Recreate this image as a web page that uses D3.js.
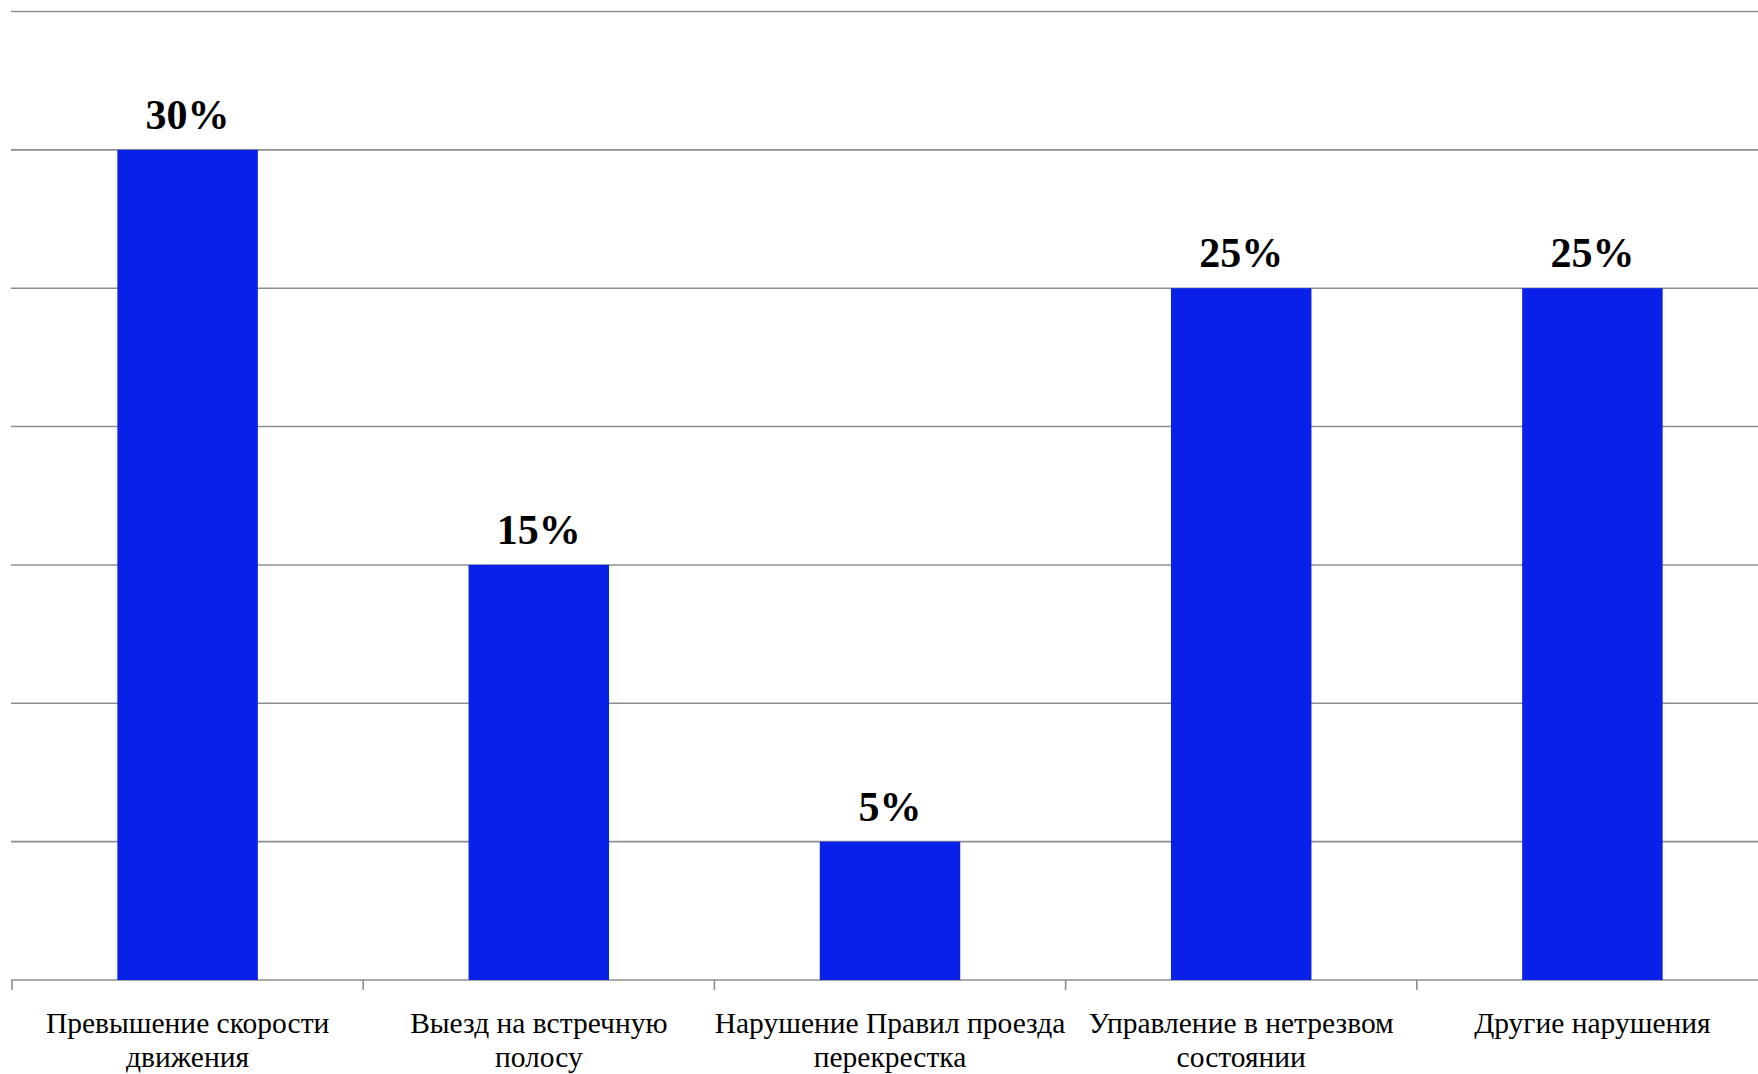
<!DOCTYPE html>
<html>
<head>
<meta charset="utf-8">
<script src="https://cdn.jsdelivr.net/npm/d3@7"></script>
<style>
    html, body { margin: 0; padding: 0; background: #fff; overflow: hidden; }
    svg { display: block; }
</style>
</head>
<body>
<div id="chart"></div>
<script>
// Chart data
const categories = [
    ["Превышение скорости", "движения"],
    ["Выезд на встречную", "полосу"],
    ["Нарушение Правил проезда", "перекрестка"],
    ["Управление в нетрезвом", "состоянии"],
    ["Другие нарушения"]
];
const values = [30, 15, 5, 25, 25];
const yTicks = [0, 5, 10, 15, 20, 25, 30, 35];

// Dimensions
const width = 1758;
const height = 1074;
const plot = { left: 12, right: 1768, top: 11.5, bottom: 980 };
const serif = "'Liberation Serif', 'Times New Roman', serif";

const svg = d3.select("#chart")
    .append("svg")
    .attr("width", width)
    .attr("height", height);

const xScale = d3.scaleBand()
    .domain(d3.range(values.length))
    .range([plot.left, plot.right])
    .paddingInner(0.6)
    .paddingOuter(0.3);

// band step, used for the tick marks between categories
const xStep = d3.scaleBand()
    .domain(d3.range(values.length))
    .range([plot.left, plot.right]);

const yScale = d3.scaleLinear()
    .domain([0, 35])
    .range([plot.bottom, plot.top]);

// Gridlines
svg.append("g")
    .selectAll("line")
    .data(yTicks)
    .enter()
    .append("line")
    .attr("x1", plot.left - 1)
    .attr("x2", width)
    .attr("y1", d => yScale(d))
    .attr("y2", d => yScale(d))
    .attr("stroke", "#8e8e8e")
    .attr("stroke-width", 1.6);

// Bars
svg.append("g")
    .selectAll("rect")
    .data(values)
    .enter()
    .append("rect")
    .attr("x", (d, i) => xScale(i))
    .attr("y", d => yScale(d))
    .attr("width", xScale.bandwidth())
    .attr("height", d => yScale(0) - yScale(d))
    .attr("fill", "#0820e8");

// Category axis ticks between categories
const boundaries = d3.range(values.length + 1).map(i => plot.left + i * xStep.step());
svg.append("g")
    .selectAll("line")
    .data(boundaries)
    .enter()
    .append("line")
    .attr("x1", d => d)
    .attr("x2", d => d)
    .attr("y1", yScale(0))
    .attr("y2", yScale(0) + 10)
    .attr("stroke", "#8e8e8e")
    .attr("stroke-width", 1.6);

// Value labels
svg.append("g")
    .selectAll("text")
    .data(values)
    .enter()
    .append("text")
    .attr("x", (d, i) => xScale(i) + xScale.bandwidth() / 2)
    .attr("y", d => yScale(d) - 21)
    .attr("text-anchor", "middle")
    .style("font-family", serif)
    .attr("font-weight", "bold")
    .attr("font-size", 42)
    .attr("fill", "#000")
    .text(d => d + "%");

// Category labels
const labels = svg.append("g")
    .selectAll("text")
    .data(categories)
    .enter()
    .append("text")
    .attr("x", (d, i) => xScale(i) + xScale.bandwidth() / 2)
    .attr("y", yScale(0) + 53)
    .attr("text-anchor", "middle")
    .style("font-family", serif)
    .attr("font-size", 29.5)
    .attr("fill", "#000");

labels.selectAll("tspan")
    .data(d => d)
    .enter()
    .append("tspan")
    .attr("x", function () { return d3.select(this.parentNode).attr("x"); })
    .attr("dy", (d, i) => i === 0 ? 0 : 34)
    .text(d => d);
</script>
</body>
</html>
